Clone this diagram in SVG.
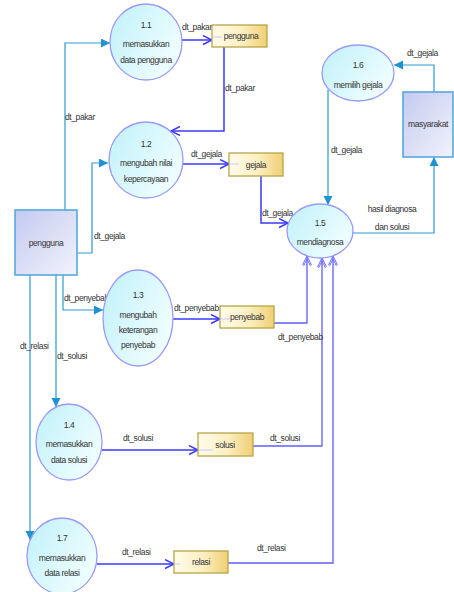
<svg xmlns="http://www.w3.org/2000/svg" width="454" height="592" viewBox="0 0 454 592">
<defs>
<linearGradient id="gProc" x1="0" y1="0" x2="1" y2="0.6"><stop offset="0" stop-color="#bff1fa"/><stop offset="1" stop-color="#f0feff"/></linearGradient>
<linearGradient id="gEnt" x1="0" y1="0" x2="1" y2="1"><stop offset="0" stop-color="#c3caef"/><stop offset="1" stop-color="#f2f3fd"/></linearGradient>
<linearGradient id="gStore" x1="0" y1="0" x2="1" y2="0"><stop offset="0" stop-color="#fffcec"/><stop offset="0.55" stop-color="#fbeec0"/><stop offset="1" stop-color="#f0cf74"/></linearGradient>
<marker id="mFill" markerUnits="userSpaceOnUse" markerWidth="10" markerHeight="10" refX="9" refY="4.5" orient="auto"><path d="M0,0 L9,4.5 L0,9 z" fill="#1f93d0"/></marker>
<marker id="mOpen" markerUnits="userSpaceOnUse" markerWidth="12" markerHeight="12" refX="10" refY="5" orient="auto"><path d="M1,0.5 L10,5 L1,9.5" fill="none" stroke="#3a3aff" stroke-width="1.4"/></marker>
<marker id="mOpen2" markerUnits="userSpaceOnUse" markerWidth="12" markerHeight="12" refX="10" refY="5" orient="auto"><path d="M1,0.5 L10,5 L1,9.5 M-2,0.5 L7,5 L-2,9.5" fill="none" stroke="#6a6aff" stroke-width="1"/></marker>
</defs>
<style>
text{font-family:"Liberation Sans",Arial,sans-serif;font-size:8.5px;letter-spacing:-0.4px;fill:#333}
.c{text-anchor:middle}
.proc{fill:url(#gProc);stroke:#9a9aff;stroke-width:1.3}
.ent{fill:url(#gEnt);stroke:#58a8dc;stroke-width:1.6}
.store{fill:url(#gStore);stroke:#b8a646;stroke-width:1.3}
.fe{fill:none;stroke:#2a9ad6;stroke-width:1.2;marker-end:url(#mFill)}
.fp{fill:none;stroke:#3a3aff;stroke-width:1.5;marker-end:url(#mOpen)}
.fs{fill:none;stroke:#5f5fff;stroke-width:1.3;marker-end:url(#mOpen2)}
.tick{stroke:#c8c8ff;stroke-width:1}
</style>

<g id="connectors">
<path class="fe" d="M65,210 V43 H110"/>
<path class="fe" d="M77,253 H92 V163 H108"/>
<path class="fe" d="M63,275 V310 H103"/>
<path class="fe" d="M56,275 V407"/>
<path class="fe" d="M30,275 V540"/>
<path class="fe" d="M434,92 V65 H394"/>
<path class="fe" d="M328,90 V205"/>
<path class="fe" d="M353,233 H434 V157"/>
<path class="fp" d="M182,40 H212"/>
<path class="fp" d="M224,47 V131 H171"/>
<path class="fp" d="M183,164 H229"/>
<path class="fp" d="M261,176 V223 H288"/>
<path class="fp" d="M173,319 H220"/>
<path class="fp" d="M102,450 H198"/>
<path class="fp" d="M97,564 H174"/>
<path class="fs" d="M274,323 H307 V256"/>
<path class="fs" d="M253,446 H322 V258"/>
<path class="fs" d="M228,563 H333 V256"/>
<text x="182" y="30">dt_pakar</text>
<text x="225" y="91">dt_pakar</text>
<text x="65" y="120">dt_pakar</text>
<text x="191" y="157">dt_gejala</text>
<text x="94" y="239">dt_gejala</text>
<text x="262" y="216">dt_gejala</text>
<text x="331" y="153">dt_gejala</text>
<text x="407" y="56">dt_gejala</text>
<text class="c" x="392" y="212">hasil diagnosa</text>
<text class="c" x="392" y="230">dan solusi</text>
<text x="64" y="301">dt_penyebab</text>
<text x="174" y="311">dt_penyebab</text>
<text x="278" y="340">dt_penyebab</text>
<text x="57" y="359">dt_solusi</text>
<text x="20" y="349">dt_relasi</text>
<text x="123" y="441">dt_solusi</text>
<text x="270" y="441">dt_solusi</text>
<text x="122" y="555">dt_relasi</text>
<text x="257" y="551">dt_relasi</text>
</g>

<g id="p1_1"><ellipse class="proc" cx="146" cy="42" rx="36" ry="38"/><text class="c" x="146" y="28">1.1</text><text class="c" x="146" y="47">memasukkan</text><text class="c" x="146" y="63">data pengguna</text></g>
<g id="p1_2"><ellipse class="proc" cx="146" cy="160" rx="37" ry="38"/><text class="c" x="146" y="147">1.2</text><text class="c" x="146" y="166">mengubah nilai</text><text class="c" x="146" y="182">kepercayaan</text></g>
<g id="p1_3"><ellipse class="proc" cx="138" cy="318" rx="35" ry="48"/><text class="c" x="138" y="298">1.3</text><text class="c" x="138" y="318">mengubah</text><text class="c" x="138" y="333">keterangan</text><text class="c" x="138" y="348">penyebab</text></g>
<g id="p1_4"><ellipse class="proc" cx="69" cy="442" rx="33" ry="38"/><text class="c" x="69" y="428">1.4</text><text class="c" x="69" y="447">memasukkan</text><text class="c" x="69" y="463">data solusi</text></g>
<g id="p1_5"><ellipse class="proc" cx="320" cy="231" rx="33" ry="27"/><text class="c" x="320" y="226">1.5</text><text class="c" x="320" y="245">mendiagnosa</text></g>
<g id="p1_6"><ellipse class="proc" cx="358" cy="73" rx="36" ry="28"/><text class="c" x="358" y="68">1.6</text><text class="c" x="358" y="88">memilih gejala</text></g>
<g id="p1_7"><ellipse class="proc" cx="62" cy="556" rx="35" ry="38"/><text class="c" x="62" y="541">1.7</text><text class="c" x="62" y="561">memasukkan</text><text class="c" x="62" y="576">data relasi</text></g>

<g id="e_pengguna"><rect class="ent" x="15" y="210" width="62" height="65"/><text class="c" x="46" y="246">pengguna</text></g>
<g id="e_masyarakat"><rect class="ent" x="403" y="92" width="50" height="65"/><text class="c" x="428" y="127">masyarakat</text></g>

<g id="s_pengguna"><rect class="store" x="212" y="25" width="55" height="22"/><line class="tick" x1="213" y1="37" x2="222" y2="37"/><text class="c" x="241" y="39">pengguna</text></g>
<g id="s_gejala"><rect class="store" x="229" y="153" width="54" height="23"/><line class="tick" x1="230" y1="164" x2="239" y2="164"/><text class="c" x="256" y="168">gejala</text></g>
<g id="s_penyebab"><rect class="store" x="220" y="306" width="54" height="22"/><line class="tick" x1="221" y1="319" x2="230" y2="319"/><text class="c" x="247" y="320">penyebab</text></g>
<g id="s_solusi"><rect class="store" x="198" y="433" width="55" height="23"/><line class="tick" x1="199" y1="450" x2="213" y2="450"/><text class="c" x="225" y="448">solusi</text></g>
<g id="s_relasi"><rect class="store" x="174" y="551" width="54" height="22"/><line class="tick" x1="175" y1="564" x2="180" y2="564"/><text class="c" x="201" y="565">relasi</text></g>
</svg>
